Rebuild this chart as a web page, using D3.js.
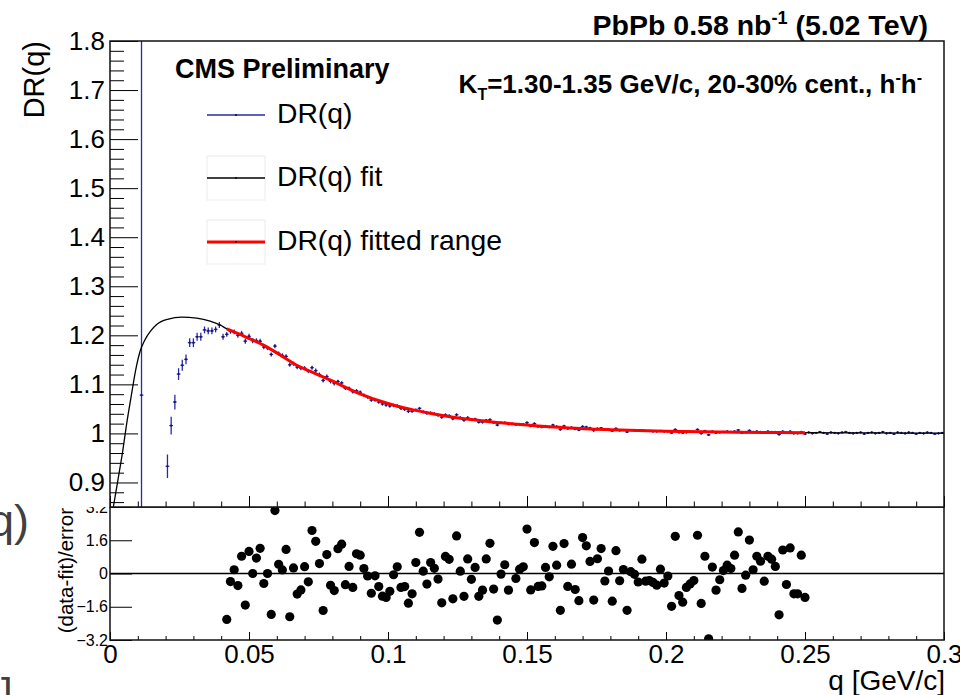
<!DOCTYPE html>
<html>
<head>
<meta charset="utf-8">
<title>DR(q)</title>
<script src="https://cdn.jsdelivr.net/npm/d3@7"></script>
<style>
body { margin: 0; background: #fff; }
text { font-family: "Liberation Sans", Arial, Helvetica, sans-serif; fill: #000; }
</style>
</head>
<body>
<script>

// histogram binning: 225 bins between 0 and 0.3 GeV/c
var binWidth = 0.3 / 225;

// DR(q) per bin, starting at bin 8 (null = no point drawn)
var drFirstBin = 8;
var drValues = [
  1.078, null, null, null, null, null, null,
  0.933, 1.016, 1.064, 1.121, 1.139, 1.151, 1.185, 1.185, 1.197, 1.197, 1.211, 1.209, 1.209, 1.212, 1.221, 1.197,
  1.202, 1.208, 1.207, 1.200, 1.204, 1.188, 1.198, 1.189, 1.189, 1.188,
  1.176, 1.174, 1.161, 1.178, 1.163, 1.159, 1.157, 1.140, 1.142, 1.135,
  1.133, 1.133, 1.127, 1.134, 1.128, 1.120, 1.108, 1.116, 1.106, 1.102,
  1.106, 1.103, 1.092, 1.092, 1.085, 1.087, 1.084, 1.078, 1.074, 1.068,
  1.068, 1.064, 1.060, 1.058, 1.056, 1.057, 1.056, 1.051, 1.049, 1.045,
  1.045, 1.048, 1.051, 1.044, 1.041, 1.042, 1.040, 1.037, 1.033, 1.038,
  1.036, 1.030, 1.038, 1.032, 1.027, 1.032, 1.028, 1.029, 1.023, 1.023,
  1.027, 1.028, 1.022, 1.017, 1.022, 1.022, 1.019, 1.020, 1.018, 1.019,
  1.018, 1.022, 1.015, 1.020, 1.014, 1.013, 1.015, 1.013, 1.017, 1.014,
  1.008, 1.015, 1.010, 1.012, 1.009, 1.007, 1.014, 1.013, 1.011, 1.006,
  1.010, 1.011, 1.007, 1.008, 1.005, 1.010, 1.006, 1.007, 1.003, 1.007,
  1.006, 1.005, 1.007, 1.005, 1.005, 1.004, 1.004, 1.005, 1.004, 1.004,
  1.001, 1.008, 1.002, 1.001, 1.002, 1.003, 1.003, 1.008, 1.000, 1.005,
  0.997, 1.004, 1.001, 1.002, 1.003, 1.004, 1.003, 1.004, 1.007, 1.001,
  1.002, 1.006, 1.003, 1.004, 1.003, 1.001, 1.004, 1.003, 1.003, 0.998,
  1.004, 1.001, 1.004, 1.000, 1.000, 1.003, 0.999,
  1.002, 1.000, 1.001, 1.003, 1.001, 0.999, 1.002, 1.001, 1.000, 1.002,
  1.003, 1.001, 1.000, 1.001, 1.002, 0.999, 1.001, 1.002, 1.000, 1.001,
  1.003, 1.000, 1.001, 0.999, 1.002, 1.001, 1.000, 1.002, 1.001, 0.999,
  1.001, 1.000, 1.002, 1.001, 0.999, 1.000, 1.001
];
var drErrors = [
  2.0, null, null, null, null, null, null,
  0.024, 0.018, 0.015, 0.012, 0.011, 0.010, 0.009, 0.009, 0.008, 0.008, 0.007, 0.007, 0.007, 0.006, 0.006, 0.006,
  0.005, 0.005, 0.005, 0.005, 0.005, 0.005, 0.005, 0.005, 0.005, 0.005,
  0.0042, 0.0042, 0.0042, 0.0042, 0.0042, 0.0042, 0.0042, 0.0042, 0.0042, 0.0042,
  0.0042, 0.0042, 0.0042, 0.0042, 0.0042, 0.0042, 0.0042, 0.0042, 0.0042, 0.0042,
  0.0035, 0.0035, 0.0035, 0.0035, 0.0035, 0.0035, 0.0035, 0.0035, 0.0035, 0.0035,
  0.0035, 0.0035, 0.0035, 0.0035, 0.0035, 0.0035, 0.0035, 0.0035, 0.0035, 0.0035,
  0.003, 0.003, 0.003, 0.003, 0.003, 0.003, 0.003, 0.003, 0.003, 0.003,
  0.003, 0.003, 0.003, 0.003, 0.003, 0.003, 0.003, 0.003, 0.003, 0.003,
  0.0025, 0.0025, 0.0025, 0.0025, 0.0025, 0.0025, 0.0025, 0.0025, 0.0025, 0.0025,
  0.0025, 0.0025, 0.0025, 0.0025, 0.0025, 0.0025, 0.0025, 0.0025, 0.0025, 0.0025,
  0.0025, 0.0025, 0.0025, 0.0025, 0.0025, 0.0025, 0.0025, 0.0025, 0.0025, 0.0025,
  0.0022, 0.0022, 0.0022, 0.0022, 0.0022, 0.0022, 0.0022, 0.0022, 0.0022, 0.0022,
  0.0022, 0.0022, 0.0022, 0.0022, 0.0022, 0.0022, 0.0022, 0.0022, 0.0022, 0.0022,
  0.0022, 0.0022, 0.0022, 0.0022, 0.0022, 0.0022, 0.0022, 0.0022, 0.0022, 0.0022,
  0.002, 0.002, 0.002, 0.002, 0.002, 0.002, 0.002, 0.002, 0.002, 0.002,
  0.002, 0.002, 0.002, 0.002, 0.002, 0.002, 0.002, 0.002, 0.002, 0.002,
  0.002, 0.002, 0.002, 0.002, 0.002, 0.002, 0.002,
  0.002, 0.002, 0.002, 0.002, 0.002, 0.002, 0.002, 0.002, 0.002, 0.002,
  0.002, 0.002, 0.002, 0.002, 0.002, 0.002, 0.002, 0.002, 0.002, 0.002,
  0.002, 0.002, 0.002, 0.002, 0.002, 0.002, 0.002, 0.002, 0.002, 0.002,
  0.002, 0.002, 0.002, 0.002, 0.002, 0.002, 0.002
];

// (data-fit)/error per bin, starting at bin 31
var resFirstBin = 31;
var residuals = [
  -2.21, -0.39, 0.18, -0.58, 0.83, -1.52, 1.06, 0.00, 0.74, 1.21,
  -0.48, 0.00, -1.97, 3.03, 0.44, 0.17, 1.16, -2.08, 0.27, -0.99,
  -0.79, 0.33, -0.40, 2.07, 1.55, 0.48, -1.78, 0.91, -0.57, -0.82,
  1.19, 1.41, -0.54, 0.34, -0.67, 0.95, 0.88, 0.24, -0.12, -0.95,
  -0.11, -0.63, -1.09, -1.15, -0.86, -0.06, 0.32, -0.67, -0.63, -1.43,
  -0.98, 0.53, 1.98, 0.11, -0.51, 0.53, 0.25, -0.27, -1.41, 0.82,
  0.68, -1.22, 1.81, 0.11, -1.10, 0.70, -0.28, 0.29, -1.10, -0.80,
  0.70, 1.45, -0.75, -2.24, -0.03, 0.42, -0.80, null, -0.24, 0.21,
  0.32, 2.14, -0.79, 1.49, -0.62, -0.60, 0.29, -0.16, 1.31, 0.40,
  -1.77, 1.44, -0.62, 0.45, -0.77, -1.31, 1.73, 1.33, 0.58, -1.28,
  0.71, 1.20, -0.36, 0.12, -1.33, 1.10, -0.35, 0.19, -1.77, 0.09,
  -0.04, -0.41, 0.69, -0.37, -0.34, -0.43, -0.56, 0.21, -0.46, -0.12,
  -1.58, 1.79, -1.06, -1.38, -0.67, -0.50, -0.34, 1.84, -1.44, 0.83,
  -3.14, 0.31, -0.80, -0.30, 0.14, 0.40, 0.24, 0.88, 2.00, -0.72,
  -0.08, 1.61, 0.18, 0.83, 0.59, -0.37, 0.83, 0.69, 0.34, -1.99,
  1.13, -0.53, 1.23, -0.98, -0.98, 0.88, -1.15
];

// fit function, sampled along the drawn curve
var fitQ = [0.0012, 0.003, 0.0046, 0.006, 0.0076, 0.0092, 0.0108, 0.0125, 0.0145, 0.0168,
            0.021, 0.0257, 0.0312, 0.036, 0.0396, 0.042, 0.0487, 0.0552, 0.0612, 0.0672,
            0.0731, 0.0791, 0.0851, 0.0911, 0.0971, 0.1031, 0.1091, 0.1151, 0.1223, 0.135,
            0.15, 0.165, 0.18, 0.2, 0.225, 0.25, 0.275, 0.3];
var fitDR = [0.850, 0.910, 0.965, 1.020, 1.075, 1.128, 1.167, 1.190, 1.208, 1.222,
             1.233, 1.237, 1.235, 1.229, 1.221, 1.213, 1.197, 1.180, 1.160, 1.139,
             1.124, 1.109, 1.093, 1.078, 1.066, 1.056, 1.048, 1.041, 1.034, 1.025,
             1.017, 1.011, 1.0075, 1.0045, 1.0025, 1.0015, 1.001, 1.0005];
var fitRange = [0.042, 0.25];

var xTicks = [0, 0.05, 0.1, 0.15, 0.2, 0.25, 0.3];
var yTicks = [0.9, 1, 1.1, 1.2, 1.3, 1.4, 1.5, 1.6, 1.7, 1.8];
var resTicks = [-3.2, -1.6, 0, 1.6, 3.2];
var legendLabels = ["DR(q)", "DR(q) fit", "DR(q) fitted range"];

var width = 960,
    height = 695;
var padL = 110, padR = 944, padT = 41, padM = 507, padB = 640;

var dataColor = "#2a2aa6";

var svg = d3.select("body").append("svg")
    .attr("width", width)
    .attr("height", height);

var x = d3.scaleLinear().domain([0, 0.3]).range([padL, padR]);
var y = d3.scaleLinear().domain([0.85, 1.8]).range([padM, padT]);
var yr = d3.scaleLinear().domain([-3.2, 3.2]).range([padB, padM]);

function fmt(d) {
  var s = String(+Math.abs(d).toFixed(3));
  return (d < 0 ? "\u2212" : "") + s;
}

function minors(lo, hi, step, majors) {
  var out = [];
  for (var v = lo; v <= hi + 1e-9; v += step) {
    var r = +v.toFixed(4);
    if (majors.every(function(m) { return Math.abs(m - r) > 1e-6; })) out.push(r);
  }
  return out;
}

var defs = svg.append("defs");
defs.append("clipPath").attr("id", "clipTop")
  .append("rect").attr("x", padL).attr("y", padT).attr("width", padR - padL).attr("height", padM - padT);
defs.append("clipPath").attr("id", "clipRes")
  .append("rect").attr("x", padL).attr("y", padM).attr("width", padR - padL).attr("height", padB - padM);

// ---------- bottom pad: residuals ----------
var bot = svg.append("g");

bot.append("line")
    .attr("x1", padL).attr("x2", padR)
    .attr("y1", yr(0)).attr("y2", yr(0))
    .style("stroke", "#000").style("stroke-width", 1.3);

var resData = [];
residuals.forEach(function(r, k) {
  if (r === null) return;
  resData.push({q: (resFirstBin + k + 0.5) * binWidth, r: r});
});

bot.append("g").attr("clip-path", "url(#clipRes)")
  .selectAll("circle")
  .data(resData)
  .enter().append("circle")
    .attr("cx", function(d) { return x(d.q); })
    .attr("cy", function(d) { return yr(d.r); })
    .attr("r", 4.6)
    .style("fill", "#000");

var resAxis = bot.append("g")
    .attr("transform", "translate(" + padL + ",0)")
    .call(d3.axisLeft(yr).tickValues(resTicks).tickSize(-22).tickPadding(2).tickFormat(fmt));
resAxis.select(".domain").remove();
resAxis.selectAll("text").style("font-size", "16px").attr("fill", "#000");
resAxis.selectAll("line").style("stroke", "#000");

var xBot = bot.append("g")
    .attr("transform", "translate(0," + padB + ")")
    .call(d3.axisBottom(x).tickValues(xTicks).tickSize(-8).tickPadding(5).tickFormat(fmt));
xBot.select(".domain").remove();
xBot.selectAll("text").style("font-size", "26px").attr("fill", "#000");
xBot.selectAll("line").style("stroke", "#000");

var xBotMinor = bot.append("g")
    .attr("transform", "translate(0," + padB + ")")
    .call(d3.axisBottom(x).tickValues(minors(0, 0.3, 0.01, xTicks)).tickSize(-4).tickFormat(""));
xBotMinor.select(".domain").remove();
xBotMinor.selectAll("line").style("stroke", "#000");

bot.append("rect")
    .attr("x", padL).attr("y", padM)
    .attr("width", padR - padL).attr("height", padB - padM)
    .style("fill", "none").style("stroke", "#111").style("stroke-width", 1.5);

bot.append("text")
    .attr("transform", "translate(72.5," + (padM + 1) + ") rotate(-90)")
    .attr("text-anchor", "end")
    .style("font-size", "20.5px")
    .text("(data-fit)/error");

bot.append("text")
    .attr("x", 945).attr("y", 690)
    .attr("text-anchor", "end")
    .style("font-size", "28px")
    .text("q [GeV/c]");

// ---------- top pad: DR(q) ----------
svg.append("rect")
    .attr("x", 0).attr("y", 0)
    .attr("width", width).attr("height", padM)
    .style("fill", "#fff");

var topPad = svg.append("g");
var plot = topPad.append("g").attr("clip-path", "url(#clipTop)");

var drData = [];
drValues.forEach(function(v, k) {
  if (v === null) return;
  drData.push({q: (drFirstBin + k + 0.5) * binWidth, v: v, e: drErrors[k]});
});

var pts = plot.append("g").selectAll("g")
    .data(drData)
    .enter().append("g");

pts.append("line")
    .attr("x1", function(d) { return x(d.q); })
    .attr("x2", function(d) { return x(d.q); })
    .attr("y1", function(d) { return y(d.v - d.e); })
    .attr("y2", function(d) { return y(d.v + d.e); })
    .style("stroke", dataColor)
    .style("stroke-width", 1.3);

pts.append("line")
    .attr("x1", function(d) { return x(d.q - binWidth / 2); })
    .attr("x2", function(d) { return x(d.q + binWidth / 2); })
    .attr("y1", function(d) { return y(d.v); })
    .attr("y2", function(d) { return y(d.v); })
    .style("stroke", dataColor)
    .style("stroke-width", 1.2);

pts.append("circle")
    .attr("cx", function(d) { return x(d.q); })
    .attr("cy", function(d) { return y(d.v); })
    .attr("r", 1.1)
    .style("fill", "#15156e");

var fitPts = fitQ.map(function(q, k) { return {q: q, v: fitDR[k]}; });

var fitLine = d3.line()
    .x(function(d) { return x(d.q); })
    .y(function(d) { return y(d.v); })
    .curve(d3.curveMonotoneX);

plot.append("path")
    .datum(fitPts)
    .attr("d", fitLine)
    .style("fill", "none")
    .style("stroke", "#000")
    .style("stroke-width", 1.3);

plot.append("path")
    .datum(fitPts.filter(function(d) { return d.q >= fitRange[0] - 1e-9 && d.q <= fitRange[1] + 1e-9; }))
    .attr("d", fitLine)
    .style("fill", "none")
    .style("stroke", "#ff0000")
    .style("stroke-width", 3);

var yMajor = topPad.append("g")
    .attr("transform", "translate(" + padL + ",0)")
    .call(d3.axisLeft(y).tickValues(yTicks).tickSize(-28).tickPadding(5).tickFormat(fmt));
yMajor.select(".domain").remove();
yMajor.selectAll("text").style("font-size", "26px").attr("fill", "#000");
yMajor.selectAll("line").style("stroke", "#000");

var yMinor = topPad.append("g")
    .attr("transform", "translate(" + padL + ",0)")
    .call(d3.axisLeft(y).tickValues(minors(0.86, 1.8, 0.02, yTicks)).tickSize(-14).tickFormat(""));
yMinor.select(".domain").remove();
yMinor.selectAll("line").style("stroke", "#000");

var xTop = topPad.append("g")
    .attr("transform", "translate(0," + padM + ")")
    .call(d3.axisBottom(x).tickValues(xTicks).tickSize(-11).tickFormat(""));
xTop.select(".domain").remove();
xTop.selectAll("line").style("stroke", "#000");

var xTopMinor = topPad.append("g")
    .attr("transform", "translate(0," + padM + ")")
    .call(d3.axisBottom(x).tickValues(minors(0, 0.3, 0.01, xTicks)).tickSize(-5.5).tickFormat(""));
xTopMinor.select(".domain").remove();
xTopMinor.selectAll("line").style("stroke", "#000");

topPad.append("rect")
    .attr("x", padL).attr("y", padT)
    .attr("width", padR - padL).attr("height", padM - padT)
    .style("fill", "none").style("stroke", "#111").style("stroke-width", 1.5);

topPad.append("text")
    .attr("transform", "translate(44," + padT + ") rotate(-90)")
    .attr("text-anchor", "end")
    .style("font-size", "29px")
    .text("DR(q)");

// headers
var head = topPad.append("text")
    .attr("x", 928).attr("y", 35)
    .attr("text-anchor", "end")
    .style("font-size", "28.5px")
    .style("font-weight", "bold");
head.append("tspan").text("PbPb 0.58 nb");
head.append("tspan").attr("dy", -11).style("font-size", "18px").text("-1");
head.append("tspan").attr("dy", 11).text(" (5.02 TeV)");

var kt = topPad.append("text")
    .attr("x", 922).attr("y", 93)
    .attr("text-anchor", "end")
    .style("font-size", "26px")
    .style("font-weight", "bold");
kt.append("tspan").text("K");
kt.append("tspan").attr("dy", 7).style("font-size", "16px").text("T");
kt.append("tspan").attr("dy", -7).text("=1.30-1.35 GeV/c, 20-30% cent., h");
kt.append("tspan").attr("dy", -10).style("font-size", "16px").text("-");
kt.append("tspan").attr("dy", 10).text("h");
kt.append("tspan").attr("dy", -10).style("font-size", "16px").text("-");

topPad.append("text")
    .attr("x", 175).attr("y", 78)
    .style("font-size", "27px")
    .style("font-weight", "bold")
    .text("CMS Preliminary");

// legend
var legendY = [115, 178, 242];
var legendStroke = [dataColor, "#000", "#ff0000"];
var legendWidth = [1.3, 1.3, 3];

var leg = topPad.append("g").selectAll("g")
    .data(legendLabels)
    .enter().append("g");

leg.filter(function(d, i) { return i > 0; })
  .append("rect")
    .attr("x", 207).attr("width", 58)
    .attr("y", function(d) { return legendY[legendLabels.indexOf(d)] - 22; })
    .attr("height", 44)
    .style("fill", "none")
    .style("stroke", "#ececec");

leg.append("line")
    .attr("x1", 207).attr("x2", 265)
    .attr("y1", function(d, i) { return legendY[i]; })
    .attr("y2", function(d, i) { return legendY[i]; })
    .style("stroke", function(d, i) { return legendStroke[i]; })
    .style("stroke-width", function(d, i) { return legendWidth[i]; });

leg.append("circle")
    .attr("cx", 236)
    .attr("cy", function(d, i) { return legendY[i]; })
    .attr("r", 0.9)
    .style("fill", "#000");

leg.append("text")
    .attr("x", 277)
    .attr("y", function(d, i) { return legendY[i] + 8; })
    .style("font-size", "28.3px")
    .text(function(d) { return d; });

// slide remnants at the left edge
svg.append("text")
    .attr("x", -11).attr("y", 536)
    .style("font-size", "45px")
    .style("fill", "#404040")
    .text("q)");

svg.append("text")
    .attr("x", 1).attr("y", 708)
    .style("font-size", "42px")
    .style("fill", "#404040")
    .text("]");

</script>
</body>
</html>
